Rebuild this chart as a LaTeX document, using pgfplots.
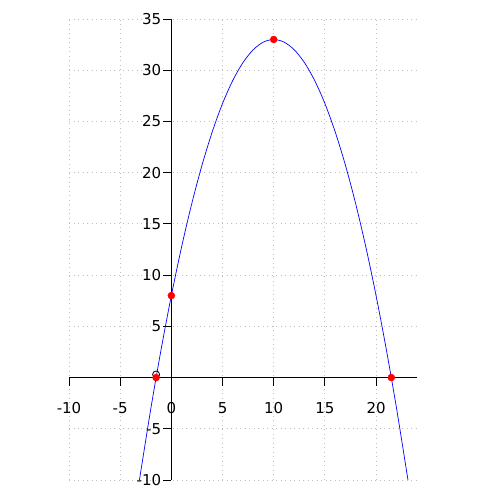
\documentclass[border=0pt]{standalone}
\usepackage{pgfplots}
\pgfplotsset{compat=1.18}
\usepackage{fontspec}
\setmainfont{DejaVu Sans}
\begin{document}
\begin{tikzpicture}
\begin{axis}[
  scale only axis, width=348pt, height=461pt,
  axis lines=middle, axis line style={-, black, line width=0.9pt},
  xmin=-10, xmax=24, ymin=-10, ymax=35,
  xtick={-10,-5,0,5,10,15,20},
  xticklabels={-10,-5,0,5,10,15,20},
  ytick={-10,-5,0,5,10,15,20,25,30,35},
  yticklabels={-10,-5,,5,10,15,20,25,30,35},
  hide obscured x ticks=false,
  grid=major, grid style={dash pattern=on 1pt off 3.5pt, black!25, line width=0.8pt},
  major tick length=8pt,
  every tick/.style={black, line width=0.9pt},
  xtick style={yshift=-4pt},
  ytick style={xshift=-4pt},
  tick label style={font=\fontsize{15}{18}\selectfont},
  xticklabel style={inner sep=0pt, anchor=north, yshift=-21pt},
  yticklabel style={inner sep=0pt, anchor=east, xshift=-6pt},
  /pgf/number format/assume math mode=true,
  clip=false,
]
\addplot[blue, line width=0.7pt, smooth] coordinates {
(-3.115,-10) (-3,-9.25) (-2,-3) (-1,2.75) (0,8) (1,12.75) (2,17) (3,20.75) (4,24) (5,26.75) (6,29) (7,30.75) (8,32) (9,32.75) (10,33)
(11,32.75) (12,32) (13,30.75) (14,29) (15,26.75) (16,24) (17,20.75) (18,17) (19,12.75) (20,8) (21,2.75) (22,-3) (23,-9.25) (23.115,-10)
};
\addplot[only marks, mark=o, black, mark size=3.5pt, line width=0.8pt] coordinates {(-1.49,0.3)};
\addplot[only marks, mark=*, red, mark size=3.5pt] coordinates {(10,33) (0,8) (21.49,0) (-1.49,0)};
\end{axis}
\pgfresetboundingbox
\path ([shift={(-69pt,-20pt)}]current axis.south west) rectangle ([shift={(83pt,19pt)}]current axis.north east);
\end{tikzpicture}
\end{document}
